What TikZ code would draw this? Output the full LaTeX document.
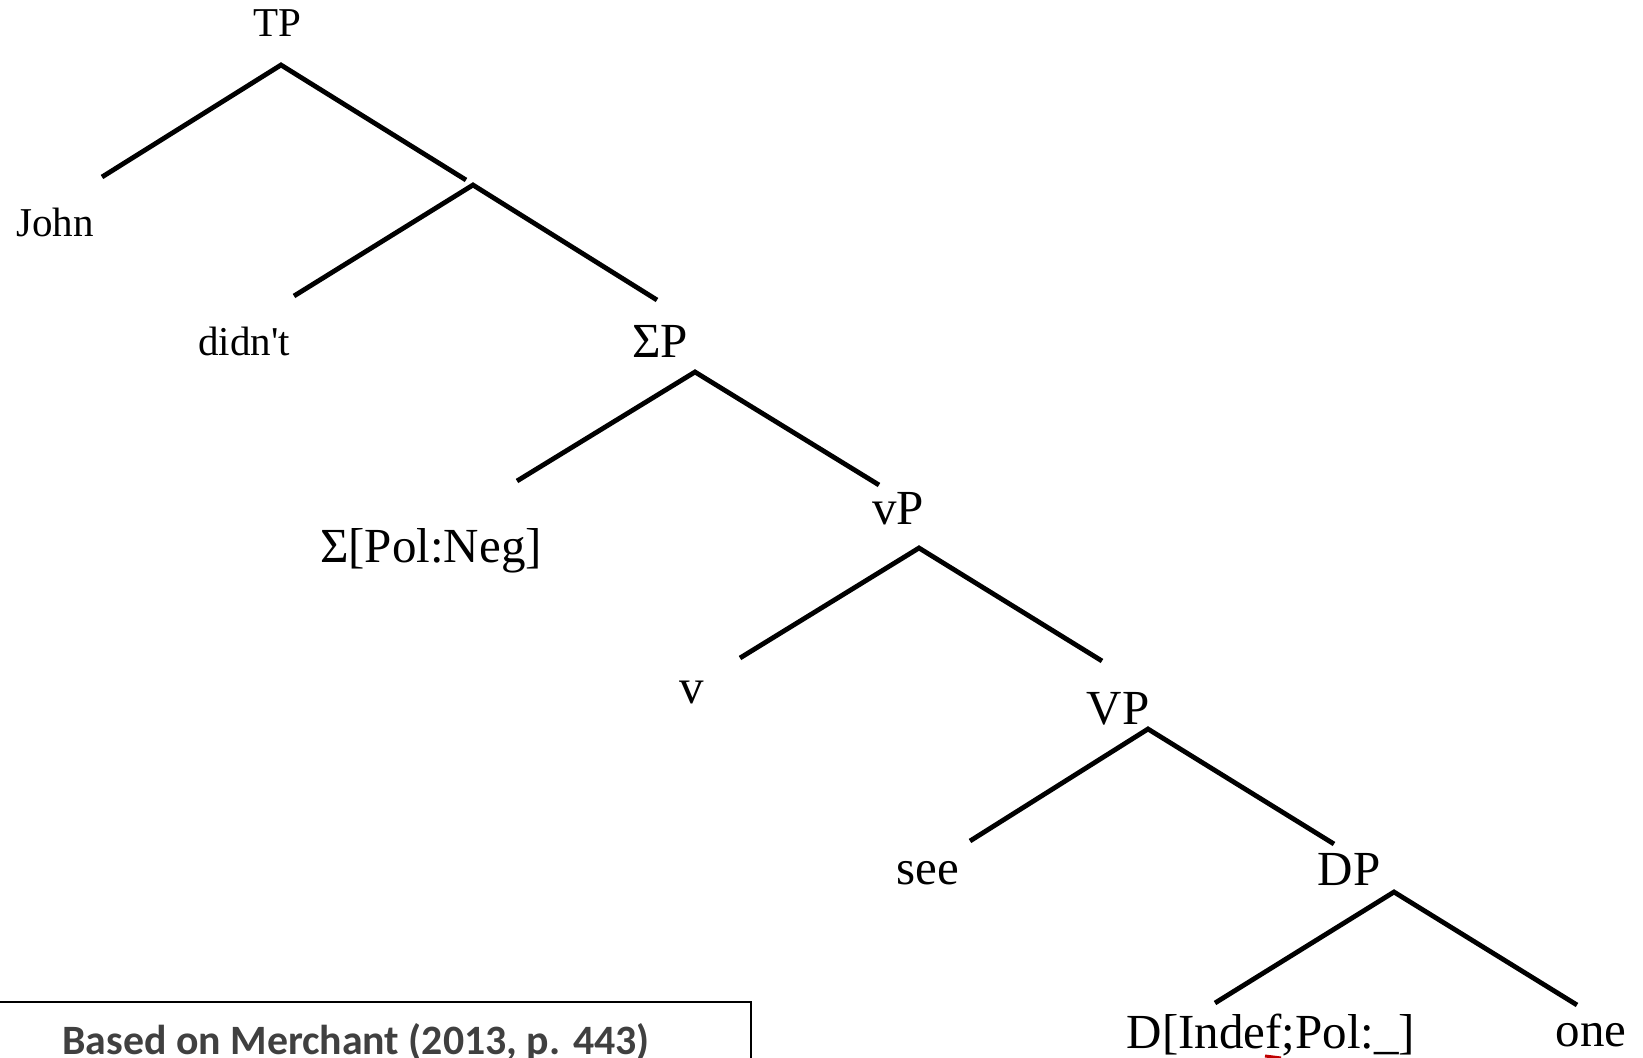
\documentclass[tikz,border=0pt]{standalone}
\usepackage{fontspec}
\setmainfont{Liberation Serif}[Ligatures=TeXOff]
\newfontfamily\capfont{Carlito}
\definecolor{capgray}{HTML}{404040}
\definecolor{markred}{HTML}{C00000}
\begin{document}
\begin{tikzpicture}[x=0.5pt,y=-0.5pt,
  lbl/.style={anchor=base,inner sep=0pt,font=\fontsize{24.5}{28}\selectfont},
  slbl/.style={anchor=base,inner sep=0pt,font=\fontsize{20.5}{24}\selectfont},
  branch/.style={line width=2.4pt,line cap=butt,line join=miter},
  capbox/.style={line width=1pt},
]
\useasboundingbox (0,0) rectangle (1643,1058);

% labels
\node[slbl] (tp) at (277,37) {TP};
\node[slbl] (john) at (55,237) {John};
\node[slbl] (didnt) at (244,356) {didn't};
\node[lbl] (sigp) at (660,358) {ΣP};
\node[lbl] (sighead) at (431,563) {Σ[Pol:Neg]};
\node[lbl] (littlevp) at (898,525) {vP};
\node[lbl] (littlev) at (692,703) {v};
\node[lbl] (bigvp) at (1118,724) {VP};
\node[lbl] (see) at (928,884) {see};
\node[lbl] (dp) at (1349,885) {DP};
\node[lbl] (dhead) at (1271,1048) {D[Indef;Pol:\_]};
\node[lbl] (one) at (1591,1046) {one};

% branch points
\coordinate (tpA) at (281,65);  \coordinate (tpL) at (102,177); \coordinate (tpR) at (466,180);
\coordinate (nA) at (473,185);  \coordinate (nL) at (294,296);  \coordinate (nR) at (657,300);
\coordinate (spA) at (695,372); \coordinate (spL) at (517,481); \coordinate (spR) at (879,485);
\coordinate (lvA) at (919,548); \coordinate (lvL) at (740,658); \coordinate (lvR) at (1102,661);
\coordinate (bvA) at (1148,729); \coordinate (bvL) at (970,841); \coordinate (bvR) at (1334,844);
\coordinate (dpA) at (1394,892); \coordinate (dpL) at (1215,1003); \coordinate (dpR) at (1577,1005);

\draw[branch] (tpL) -- (tpA) -- (tpR);
\draw[branch] (nL) -- (nA) -- (nR);
\draw[branch] (spL) -- (spA) -- (spR);
\draw[branch] (lvL) -- (lvA) -- (lvR);
\draw[branch] (bvL) -- (bvA) -- (bvR);
\draw[branch] (dpL) -- (dpA) -- (dpR);

% caption box
\coordinate (boxTL) at (-2,1002);
\coordinate (boxTR) at (751,1002);
\coordinate (boxBR) at (751,1070);
\draw[capbox] (boxTL) -- (boxTR) -- (boxBR);
\node[anchor=base,inner sep=0pt,text=capgray,font=\capfont\bfseries\fontsize{20.9}{25}\selectfont] (cap) at (356,1054) {Based on Merchant (2013, p. 443)};

% small red mark
\coordinate (rm1) at (1265,1056);
\coordinate (rm2) at (1281,1058);
\draw[markred,line width=1.5pt] (rm1) -- (rm2);
\end{tikzpicture}
\end{document}
